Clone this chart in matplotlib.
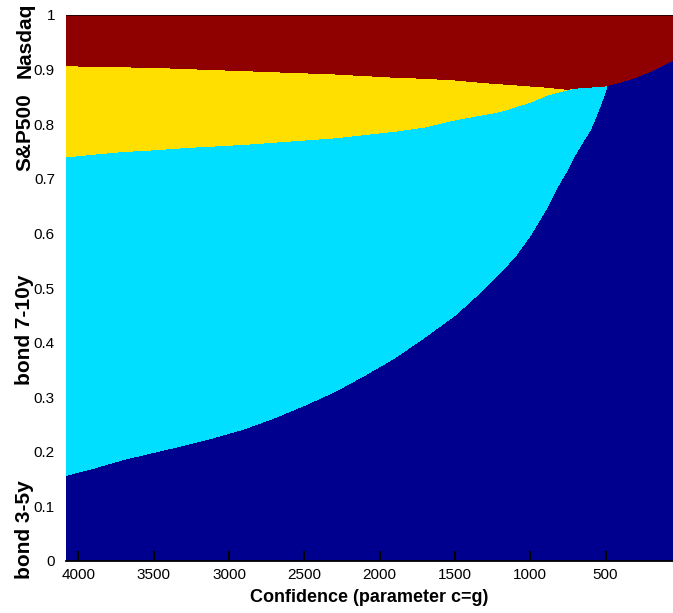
import numpy as np
import matplotlib as mpl
from matplotlib import pyplot as plt

# confidence parameter c=g (x axis runs from high to low)
conf = [4080, 3900, 3700, 3500, 3300, 3100, 2900, 2700, 2500, 2300, 2100,
        1900, 1700, 1500, 1300, 1200, 1100, 1000, 900, 800, 750, 700, 650,
        600, 550, 500, 490, 400, 300, 200, 100, 50]

# portfolio weights
bond35 = [.157, .170, .186, .199, .212, .226, .242, .262, .285, .310, .340,
          .372, .410, .450, .500, .528, .558, .596, .642, .695, .718, .745, .768,
          .790, .823, .860, .871, .877, .886, .897, .910, .918]
bond710 = [.583, .575, .564, .554, .545, .534, .521, .505, .486, .465, .441,
           .415, .385, .358, .318, .295, .274, .244, .210, .165, .145, .121, .099,
           .078, .046, .010, 0, 0, 0, 0, 0, 0]
sp500 = [.167, .161, .155, .151, .145, .140, .135, .129, .123, .117, .108,
         .099, .089, .073, .058, .051, .040, .030, .016, .005, .001, 0, 0,
         0, 0, 0, 0, 0, 0, 0, 0, 0]
nasdaq = [.093, .094, .095, .096, .098, .100, .102, .104, .106, .108, .111,
          .114, .116, .119, .124, .126, .128, .130, .132, .135, .136, .134, .133,
          .132, .131, .130, .129, .123, .114, .103, .090, .082]

asset_names = ['bond 3-5y', 'bond 7-10y', 'S&P500', 'Nasdaq']
colors = ['#00008F', '#00DFFF', '#FFDF00', '#8F0000']

xticks = [4000, 3500, 3000, 2500, 2000, 1500, 1000, 500]
yticks = np.arange(0, 1.01, 0.1)


def main():
    plt.rcParams['font.family'] = ['Liberation Sans', 'DejaVu Sans']

    fig = plt.figure(figsize=(6.73, 6.13), dpi=100)
    ax = fig.add_axes([66/673, 52/613, 607/673, 546/613])

    ax.stackplot(conf, bond35, bond710, sp500, nasdaq, colors=colors,
                 linewidth=0, antialiased=False, zorder=0)

    ax.set_xlim(4083, 52)
    ax.set_ylim(0, 1)
    ax.set_xticks(xticks)
    ax.set_xticklabels([str(t) for t in xticks])
    ax.set_yticks(yticks)
    ax.set_yticklabels(['0'] + ['%.1f' % v for v in yticks[1:-1]] + ['1'])
    ax.tick_params(labelsize=11)
    ax.tick_params(axis='x', direction='in', length=7, width=1.5,
                   color='black', pad=5)
    ax.tick_params(axis='y', pad=8, length=0)

    for side in ['left', 'right']:
        ax.spines[side].set_visible(False)
    ax.spines['top'].set_linewidth(0.5)
    ax.spines['bottom'].set_linewidth(1.3)

    ax.set_xlabel('Confidence (parameter c=g)', fontsize=13, fontweight='bold', labelpad=5)

    # asset names as rotated labels on the left
    label_y = [0.058, 0.423, 0.786, 0.954]
    for name, yv in zip(asset_names, label_y):
        ax.text(-0.068, yv, name, transform=ax.get_yaxis_transform(),
                rotation=90, ha='center', va='center', fontsize=15,
                fontweight='bold')

    plt.savefig('out.png', dpi=100)


if __name__ == "__main__":
    main()
